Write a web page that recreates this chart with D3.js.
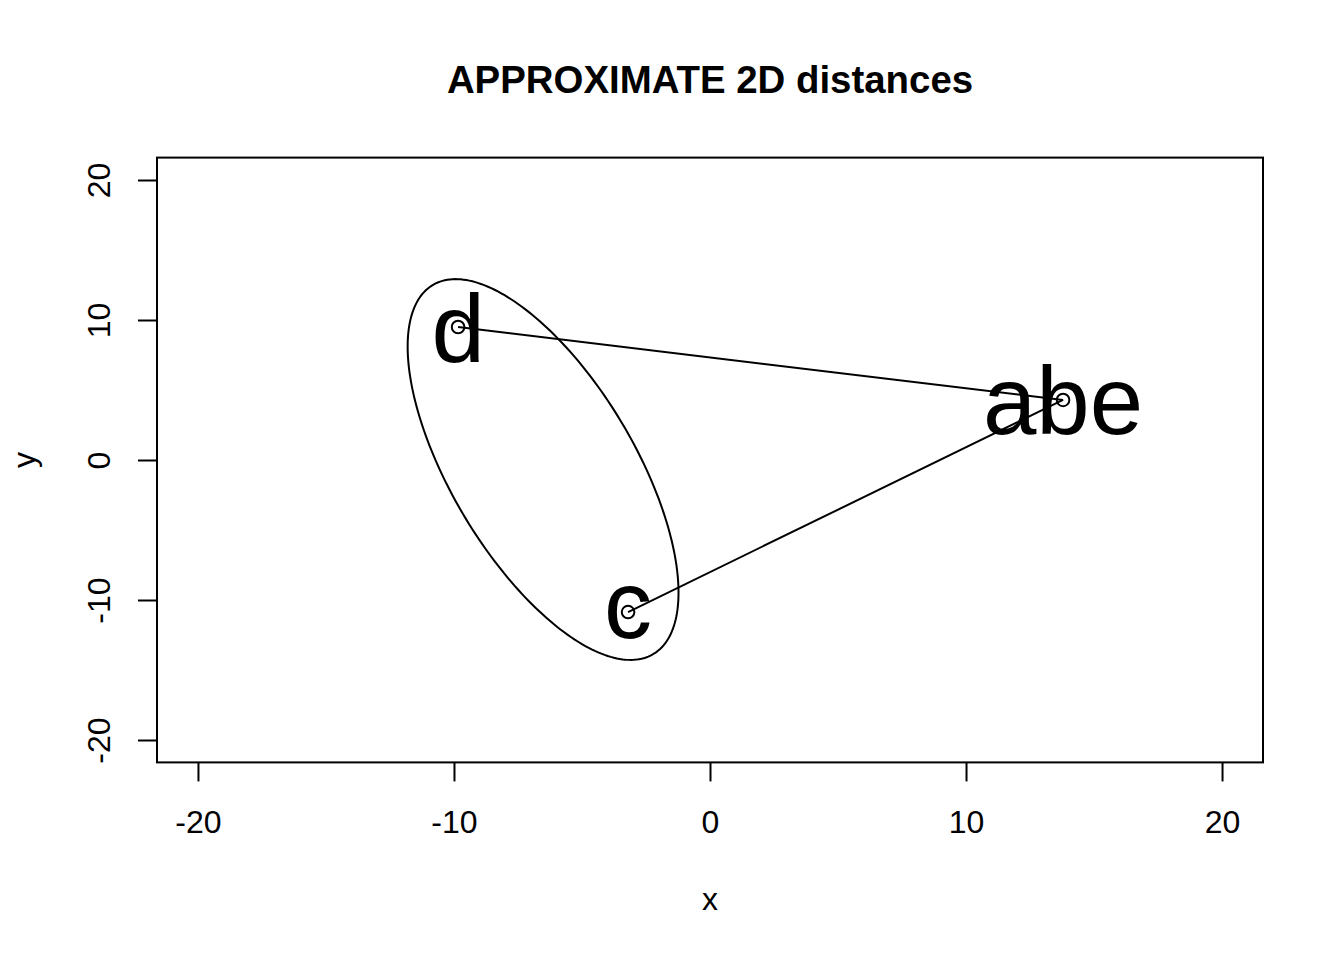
<!DOCTYPE html>
<html>
<head>
<meta charset="utf-8">
<script src="https://cdn.jsdelivr.net/npm/d3@7"></script>
<style>
  html, body { margin: 0; padding: 0; background: #fff; }
  svg { display: block; font-family: "Liberation Sans", Arial, Helvetica, sans-serif; }
</style>
</head>
<body>
<svg id="chart" width="1344" height="960"></svg>
<script>
// ---- data ----
const pointNames = ["abe", "c", "d"];
const pointX = [13.79, -3.20, -9.84];
const pointY = [4.29, -10.86, 9.50];

// confidence-style ellipse around c and d (center, spreads, correlation)
const ellipseCenter = [-6.52, -0.68];
const ellipseSpread = [5.29, 13.60];
const ellipseRho = -0.646;

// segments drawn between points (indices)
const segFrom = [2, 1];
const segTo = [0, 0];

const xTicks = [-20, -10, 0, 10, 20];
const yTicks = [-20, -10, 0, 10, 20];
const xLim = [-21.6, 21.6];
const yLim = [-21.6, 21.6];

const titleText = "APPROXIMATE 2D distances";
const xLabel = "x";
const yLabel = "y";

// ---- layout ----
const W = 1344, H = 960;
const plotL = 157, plotR = 1263, plotT = 157.6, plotB = 762.4;
const FONT = '"Liberation Sans", Arial, Helvetica, sans-serif';

const svg = d3.select("#chart");
const x = d3.scaleLinear().domain(xLim).range([plotL, plotR]);
const y = d3.scaleLinear().domain(yLim).range([plotB, plotT]);

// title
svg.append("text")
  .attr("x", (plotL + plotR) / 2)
  .attr("y", 93)
  .attr("text-anchor", "middle")
  .attr("font-size", 38.4)
  .attr("font-weight", "bold")
  .text(titleText);

// x axis
const gx = svg.append("g")
  .attr("transform", `translate(0,${plotB})`)
  .call(d3.axisBottom(x).tickValues(xTicks).tickSize(19).tickFormat(d3.format("d")));
gx.select(".domain").remove();
gx.selectAll("line").attr("stroke", "#000").attr("stroke-width", 2);
gx.selectAll("text")
  .attr("y", 71).attr("dy", null)
  .attr("font-size", 32).attr("font-family", FONT).attr("fill", "#000")
  .text(d => d < 0 ? "-" + Math.abs(d) : String(d));

// y axis
const gy = svg.append("g")
  .attr("transform", `translate(${plotL},0)`)
  .call(d3.axisLeft(y).tickValues(yTicks).tickSize(19));
gy.select(".domain").remove();
gy.selectAll("line").attr("stroke", "#000").attr("stroke-width", 2);
gy.selectAll("text")
  .attr("transform", "rotate(-90)")
  .attr("x", 0).attr("y", -47).attr("dy", null)
  .attr("text-anchor", "middle")
  .attr("font-size", 32).attr("font-family", FONT).attr("fill", "#000")
  .text(d => d < 0 ? "-" + Math.abs(d) : String(d));

// axis labels
svg.append("text")
  .attr("x", (plotL + plotR) / 2).attr("y", plotB + 148)
  .attr("text-anchor", "middle").attr("font-size", 32)
  .text(xLabel);
svg.append("text")
  .attr("transform", `translate(${plotL - 122},${(plotT + plotB) / 2}) rotate(-90)`)
  .attr("text-anchor", "middle").attr("font-size", 32)
  .text(yLabel);

// box
svg.append("rect")
  .attr("x", plotL).attr("y", plotT)
  .attr("width", plotR - plotL).attr("height", plotB - plotT)
  .attr("fill", "none").attr("stroke", "#000").attr("stroke-width", 2);

// ellipse
const nE = 240;
const ePts = d3.range(nE + 1).map(i => {
  const t = 2 * Math.PI * i / nE;
  const ex = ellipseCenter[0] + ellipseSpread[0] * Math.cos(t);
  const ey = ellipseCenter[1] + ellipseSpread[1] *
    (ellipseRho * Math.cos(t) + Math.sqrt(1 - ellipseRho * ellipseRho) * Math.sin(t));
  return [x(ex), y(ey)];
});
svg.append("path")
  .attr("d", d3.line()(ePts))
  .attr("fill", "none").attr("stroke", "#000").attr("stroke-width", 2);

// segments
svg.append("g").selectAll("line")
  .data(segFrom.map((f, i) => [f, segTo[i]]))
  .join("line")
  .attr("x1", d => x(pointX[d[0]])).attr("y1", d => y(pointY[d[0]]))
  .attr("x2", d => x(pointX[d[1]])).attr("y2", d => y(pointY[d[1]]))
  .attr("stroke", "#000").attr("stroke-width", 2);

// points
svg.append("g").selectAll("circle")
  .data(pointNames.map((n, i) => i))
  .join("circle")
  .attr("cx", i => x(pointX[i])).attr("cy", i => y(pointY[i]))
  .attr("r", 6.3)
  .attr("fill", "none").attr("stroke", "#000").attr("stroke-width", 2);

// labels, vertically centred on their ink like R's text()
const labelSize = 96;
const ctx = document.createElement("canvas").getContext("2d");
ctx.font = `${labelSize}px ${FONT}`;
svg.append("g").selectAll("text")
  .data(pointNames.map((n, i) => i))
  .join("text")
  .attr("x", i => x(pointX[i]))
  .attr("y", i => {
    const m = ctx.measureText(pointNames[i]);
    const off = (m.actualBoundingBoxAscent - m.actualBoundingBoxDescent) / 2;
    return y(pointY[i]) + off;
  })
  .attr("text-anchor", "middle")
  .attr("font-size", labelSize)
  .attr("fill", "#000")
  .text(i => pointNames[i]);
</script>
</body>
</html>
